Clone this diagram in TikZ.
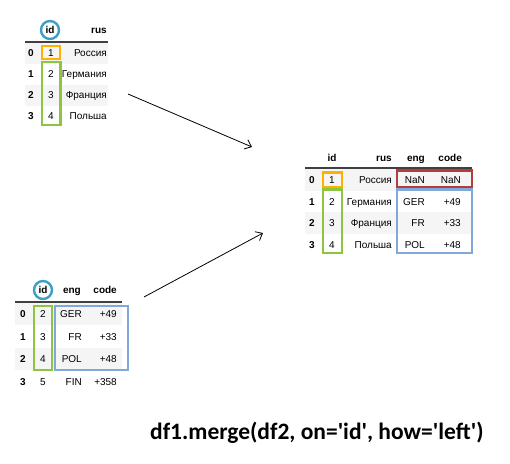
\documentclass[tikz,border=0pt]{standalone}
\usepackage{fontspec}
\setmainfont{Liberation Sans}
\newfontfamily\calfont{Carlito}
\usetikzlibrary{arrows.meta}
\definecolor{orangebox}{RGB}{255,176,0}
\definecolor{greenbox}{RGB}{140,198,63}
\definecolor{bluebox}{RGB}{128,168,216}
\definecolor{redbox}{RGB}{180,60,60}
\definecolor{circcol}{RGB}{60,160,195}
\definecolor{stripecol}{RGB}{245,245,245}
\begin{document}
\begin{tikzpicture}[x=1pt,y=-1pt,
  cell/.style={font=\fontsize{10}{12}\selectfont, inner sep=0pt, anchor=base},
  rcell/.style={cell, anchor=base east},
  hd/.style={cell, font=\bfseries\fontsize{10}{12}\selectfont},
  rhd/.style={hd, anchor=base east},
  idx/.style={hd},
  boxline/.style={line width=2.6pt},
  stripe/.style={fill=stripecol, draw=none},
  hline/.style={line width=1.1pt, draw=black!75},
  circmark/.style={draw=circcol, line width=2.4pt, circle, minimum size=18pt, inner sep=0pt},
  arr/.style={-{Straight Barb[length=6pt,width=10pt]}, line width=0.8pt}]
\useasboundingbox (0,0) rectangle (510,463);

% ---------- table 1 (top left) ----------
\fill[stripecol] (25,42.5) rectangle (108,63.5);
\fill[stripecol] (25,84.5) rectangle (108,105.5);
\draw[hline] (25,42) -- (108,42);
\node[circmark] (c1) at (50,30) {};
\node[hd] (a-hid) at (50,33.5) {id};
\node[rhd] (a-hrus) at (107,33.5) {rus};
\foreach \i/\y/\v/\r in {0/53/1/Россия,1/74/2/Германия,2/95/3/Франция,3/116/4/Польша}{
  \node[idx] (a-i\i) at (31,\y+3.5) {\i};
  \node[cell] (a-id\i) at (51,\y+3.5) {\v};
  \node[rcell] (a-rus\i) at (107,\y+3.5) {\r};
}
\draw[boxline, draw=orangebox] (42,46) rectangle (60,59);
\draw[boxline, draw=greenbox] (42,62) rectangle (60.5,125);

% ---------- table 2 (bottom left) ----------
\fill[stripecol] (15,303) rectangle (122,325);
\fill[stripecol] (15,348) rectangle (122,370);
\draw[hline] (15,302) -- (122,302);
\node[circmark] (c2) at (43,290) {};
\node[hd] (b-hid) at (43,293.5) {id};
\node[rhd] (b-heng) at (81,293.5) {eng};
\node[rhd] (b-hcode) at (117,293.5) {code};
\foreach \i/\y/\v/\e/\c in {0/314/2/GER/+49,1/336.5/3/FR/+33,2/359/4/POL/+48,3/381.5/5/FIN/+358}{
  \node[idx] (b-i\i) at (23,\y+3.5) {\i};
  \node[cell] (b-id\i) at (43,\y+3.5) {\v};
  \node[rcell] (b-eng\i) at (82,\y+3.5) {\e};
  \node[rcell] (b-code\i) at (117,\y+3.5) {\c};
}
\draw[boxline, draw=greenbox] (34,306) rectangle (52,370);
\draw[boxline, draw=bluebox] (55,306) rectangle (128,370);

% ---------- result table ----------
\fill[stripecol] (305,169) rectangle (472,191);
\fill[stripecol] (305,212) rectangle (472,234);
\draw[hline] (305,168) -- (472,168);
\node[hd] (r-hid) at (332,161.5) {id};
\node[rhd] (r-hrus) at (392,161.5) {rus};
\node[rhd] (r-heng) at (425,161.5) {eng};
\node[rhd] (r-hcode) at (462,161.5) {code};
\foreach \i/\y/\v/\r/\e/\c in {0/180/1/Россия/NaN/NaN,1/201.5/2/Германия/GER/+49,2/223/3/Франция/FR/+33,3/244.5/4/Польша/POL/+48}{
  \node[idx] (r-i\i) at (312,\y+3.5) {\i};
  \node[cell] (r-id\i) at (332,\y+3.5) {\v};
  \node[rcell] (r-rus\i) at (392,\y+3.5) {\r};
  \node[rcell] (r-eng\i) at (425,\y+3.5) {\e};
  \node[rcell] (r-code\i) at (461,\y+3.5) {\c};
}
\draw[boxline, draw=orangebox] (323,172.5) rectangle (342,187);
\draw[boxline, draw=greenbox] (323,189.5) rectangle (342,253);
\draw[boxline, draw=redbox] (397,170.5) rectangle (472,187);
\draw[boxline, draw=bluebox] (397,189.5) rectangle (472,253);

% ---------- arrows ----------
\coordinate (p1s) at (128,94);
\coordinate (p1e) at (252,147);
\coordinate (p2s) at (144,297);
\coordinate (p2e) at (263,233);
\draw[arr] (p1s) -- (p1e);
\draw[arr] (p2s) -- (p2e);

% ---------- caption ----------
\node[anchor=base west, inner sep=0pt, font=\calfont\bfseries\fontsize{23.5}{28}\selectfont] (cap) at (150,439)
  {df1.merge(df2, on=\textquotesingle id\textquotesingle, how=\textquotesingle left\textquotesingle)};
\end{tikzpicture}
\end{document}
